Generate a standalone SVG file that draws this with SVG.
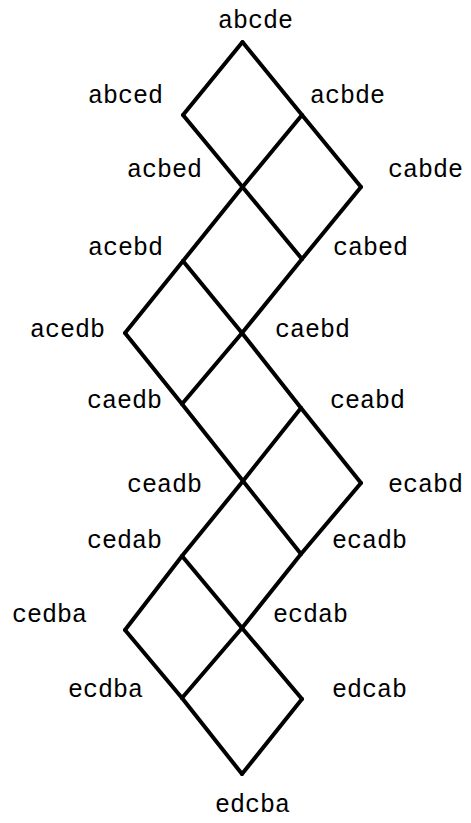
<svg xmlns="http://www.w3.org/2000/svg" width="471" height="823" viewBox="0 0 471 823">
<style>
  .lbl { font-family: "Liberation Mono", "Courier New", monospace; font-size: 25px; fill: #000; }
  .edge { stroke: #000; stroke-width: 4; stroke-linecap: round; stroke-linejoin: round; fill: none; }
</style>
<rect width="471" height="823" fill="#fff"/>
<g id="connectors" class="edge">
  <line x1="242.5" y1="42" x2="183" y2="115"/>
  <line x1="242.5" y1="42" x2="302" y2="115"/>
  <line x1="183" y1="115" x2="242.5" y2="187"/>
  <line x1="302" y1="115" x2="242.5" y2="187"/>
  <line x1="302" y1="115" x2="361" y2="187"/>
  <line x1="242.5" y1="187" x2="183" y2="261"/>
  <line x1="242.5" y1="187" x2="302" y2="259"/>
  <line x1="361" y1="187" x2="302" y2="259"/>
  <line x1="183" y1="261" x2="125" y2="333"/>
  <line x1="183" y1="261" x2="242" y2="333"/>
  <line x1="302" y1="259" x2="242" y2="333"/>
  <line x1="125" y1="333" x2="182" y2="404"/>
  <line x1="242" y1="333" x2="182" y2="404"/>
  <line x1="242" y1="333" x2="301" y2="408"/>
  <line x1="182" y1="404" x2="243" y2="481"/>
  <line x1="301" y1="408" x2="243" y2="481"/>
  <line x1="301" y1="408" x2="361" y2="483"/>
  <line x1="243" y1="481" x2="182" y2="556"/>
  <line x1="243" y1="481" x2="301" y2="554"/>
  <line x1="361" y1="483" x2="301" y2="554"/>
  <line x1="182" y1="556" x2="125" y2="630"/>
  <line x1="182" y1="556" x2="242" y2="628"/>
  <line x1="301" y1="554" x2="242" y2="628"/>
  <line x1="125" y1="630" x2="182" y2="698"/>
  <line x1="242" y1="628" x2="182" y2="698"/>
  <line x1="242" y1="628" x2="302" y2="699"/>
  <line x1="182" y1="698" x2="242" y2="774"/>
  <line x1="302" y1="699" x2="242" y2="774"/>
</g>
<g id="abcde"><text class="lbl" x="218" y="28">abcde</text></g>
<g id="abced"><text class="lbl" x="88" y="103">abced</text></g>
<g id="acbde"><text class="lbl" x="310" y="103">acbde</text></g>
<g id="acbed"><text class="lbl" x="127" y="177">acbed</text></g>
<g id="cabde"><text class="lbl" x="388" y="177">cabde</text></g>
<g id="acebd"><text class="lbl" x="88" y="255">acebd</text></g>
<g id="cabed"><text class="lbl" x="333" y="255">cabed</text></g>
<g id="acedb"><text class="lbl" x="30" y="337">acedb</text></g>
<g id="caebd"><text class="lbl" x="275" y="337">caebd</text></g>
<g id="caedb"><text class="lbl" x="87" y="408">caedb</text></g>
<g id="ceabd"><text class="lbl" x="330" y="408">ceabd</text></g>
<g id="ceadb"><text class="lbl" x="127" y="492">ceadb</text></g>
<g id="ecabd"><text class="lbl" x="388" y="492">ecabd</text></g>
<g id="cedab"><text class="lbl" x="87" y="548">cedab</text></g>
<g id="ecadb"><text class="lbl" x="332" y="548">ecadb</text></g>
<g id="cedba"><text class="lbl" x="12" y="622">cedba</text></g>
<g id="ecdab"><text class="lbl" x="273" y="622">ecdab</text></g>
<g id="ecdba"><text class="lbl" x="68" y="697">ecdba</text></g>
<g id="edcab"><text class="lbl" x="332" y="697">edcab</text></g>
<g id="edcba"><text class="lbl" x="215" y="812">edcba</text></g>
</svg>
